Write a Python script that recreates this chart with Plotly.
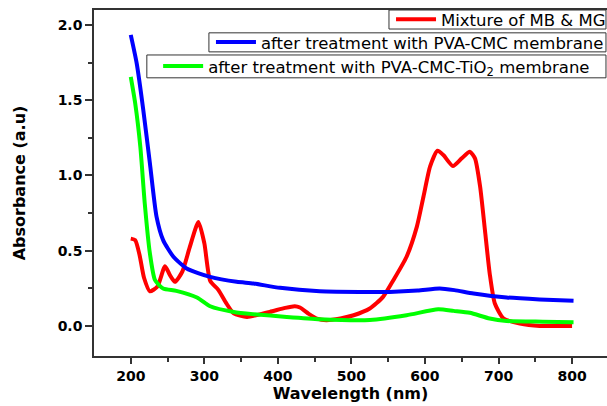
import plotly.graph_objects as go

# Mixture of MB & MG
red_x = [200, 206, 212, 218, 226, 236, 246.6, 253, 260, 270, 280, 292, 300, 308, 319, 330, 340, 358, 389, 410, 423, 430, 442, 453, 466, 485, 503, 525, 543, 557, 575, 589, 598, 607, 617, 625, 638, 650, 661, 668, 675, 682, 688, 695, 707, 729, 756, 780, 800]
red_y = [0.58, 0.57, 0.47, 0.32, 0.23, 0.26, 0.397, 0.34, 0.293, 0.36, 0.52, 0.69, 0.55, 0.30, 0.24, 0.15, 0.083, 0.06, 0.093, 0.12, 0.131, 0.122, 0.08, 0.049, 0.038, 0.05, 0.071, 0.116, 0.193, 0.304, 0.46, 0.66, 0.86, 1.06, 1.165, 1.136, 1.063, 1.114, 1.158, 1.114, 0.925, 0.615, 0.349, 0.149, 0.049, 0.016, 0.0, 0.0, 0.0]

# after treatment with PVA-CMC membrane
blue_x = [200, 208, 217, 226, 235, 244, 258, 276, 308, 344, 367, 403, 457, 525, 552, 590, 620, 640, 666, 711, 756, 802]
blue_y = [1.935, 1.747, 1.436, 1.081, 0.726, 0.57, 0.46, 0.382, 0.326, 0.293, 0.282, 0.253, 0.231, 0.226, 0.226, 0.235, 0.249, 0.238, 0.216, 0.189, 0.176, 0.167]

# after treatment with PVA-CMC-TiO2 membrane
green_x = [200, 206, 213, 219, 226, 233, 244, 262, 290, 308, 340, 367, 412, 457, 525, 575, 618, 639, 661, 688, 711, 760, 802]
green_y = [1.655, 1.48, 1.19, 0.815, 0.482, 0.304, 0.249, 0.233, 0.189, 0.131, 0.093, 0.078, 0.06, 0.045, 0.04, 0.071, 0.111, 0.10, 0.087, 0.049, 0.033, 0.028, 0.025]

names = ["Mixture of MB &amp; MG",
         "after treatment with PVA-CMC membrane",
         "after treatment with PVA-CMC-TiO<sub>2</sub> membrane"]

x_ticks = [200, 300, 400, 500, 600, 700, 800]
y_ticks = [0.0, 0.5, 1.0, 1.5, 2.0]

fig = go.Figure()
fig.add_trace(go.Scatter(x=red_x, y=red_y, mode="lines", name=names[0], showlegend=True,
                         line=dict(color="#ff0000", width=4, shape="spline", smoothing=0.6),
                         legend="legend"))
fig.add_trace(go.Scatter(x=blue_x, y=blue_y, mode="lines", name=names[1], showlegend=True,
                         line=dict(color="#0000ff", width=4, shape="spline", smoothing=0.6),
                         legend="legend2"))
fig.add_trace(go.Scatter(x=green_x, y=green_y, mode="lines", name=names[2], showlegend=True,
                         line=dict(color="#00ff00", width=4, shape="spline", smoothing=0.6),
                         legend="legend3"))

leg_common = dict(bgcolor="rgba(0,0,0,0)", borderwidth=0, visible=True,
                  font=dict(family="DejaVu Sans", size=16.5, color="black"),
                  xanchor="left", yanchor="middle", itemwidth=40)

# legend frames (paper coordinates): x0, x1, y0, y1
boxes = [(0.575, 0.998, 0.945, 1.0),
         (0.224, 0.998, 0.879, 0.934),
         (0.103, 0.998, 0.804, 0.870)]
# horizontal offset of each legend entry inside its frame
offsets = [0.004, 0.004, 0.022]
shapes = [dict(type="rect", xref="paper", yref="paper", x0=b[0], x1=b[1], y0=b[2], y1=b[3],
               line=dict(color="#333333", width=1), fillcolor="white", layer="above")
          for b in boxes]

fig.update_layout(
    width=607, height=406,
    showlegend=True,
    margin=dict(l=94, r=0, t=10, b=50, autoexpand=False),
    paper_bgcolor="white", plot_bgcolor="white",
    shapes=shapes,
    legend=dict(x=boxes[0][0] + offsets[0], y=(boxes[0][2] + boxes[0][3]) / 2, **leg_common),
    legend2=dict(x=boxes[1][0] + offsets[1], y=(boxes[1][2] + boxes[1][3]) / 2, **leg_common),
    legend3=dict(x=boxes[2][0] + offsets[2], y=(boxes[2][2] + boxes[2][3]) / 2, **leg_common),
    xaxis=dict(range=[150, 847.5], tickvals=x_ticks, ticks="outside", ticklen=6, tickwidth=1.5,
               showline=True, linecolor="#333333", linewidth=1.5, mirror=True, showgrid=False,
               zeroline=False, tickcolor="#333333",
               tickfont=dict(family="DejaVu Sans", size=14, color="black", weight="bold"),
               minor=dict(tickvals=[250, 350, 450, 550, 650, 750], ticks="outside", ticklen=4,
                          tickwidth=1.5, tickcolor="#333333"),
               title=dict(text="<b>Wavelength (nm)</b>", standoff=4,
                          font=dict(family="DejaVu Sans", size=16, color="black"))),
    yaxis=dict(range=[-0.2, 2.1], tickvals=y_ticks, tickformat=".1f", ticks="outside", ticklen=7,
               tickwidth=1.5, showline=True, linecolor="#333333", linewidth=1.5, mirror=False,
               showgrid=False, zeroline=False, tickcolor="#333333",
               tickfont=dict(family="DejaVu Sans", size=14, color="black", weight="bold"),
               minor=dict(tickvals=[-0.25, 0.25, 0.75, 1.25, 1.75], ticks="outside", ticklen=4,
                          tickwidth=1.5, tickcolor="#333333"),
               title=dict(text="<b>Absorbance (a.u)</b>", standoff=28,
                          font=dict(family="DejaVu Sans", size=16, color="black"))),
)

fig.write_html("out.html")
